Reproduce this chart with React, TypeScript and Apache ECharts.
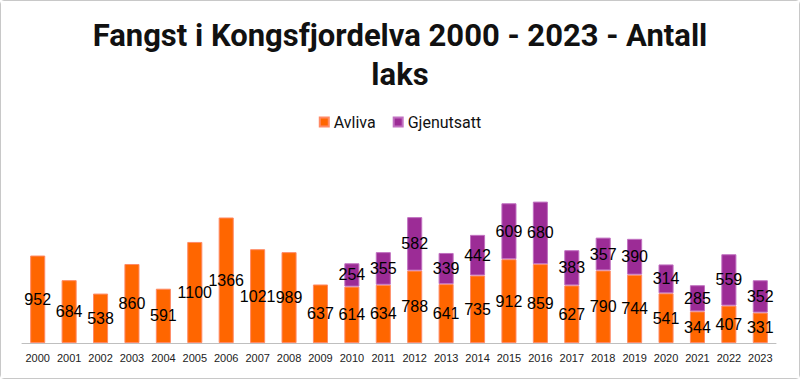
import React, { useEffect, useRef } from "react";
import * as echarts from "echarts";

const years = ["2000","2001","2002","2003","2004","2005","2006","2007","2008","2009","2010","2011","2012","2013","2014","2015","2016","2017","2018","2019","2020","2021","2022","2023"];
const avliva = [952,684,538,860,591,1100,1366,1021,989,637,614,634,788,641,735,912,859,627,790,744,541,344,407,331];
const gjenutsatt = [null,null,null,null,null,null,null,null,null,null,254,355,582,339,442,609,680,383,357,390,314,285,559,352];

export default function App() {
  const ref = useRef<HTMLDivElement>(null);
  useEffect(() => {
    document.body.style.margin = "0";
    const chart = echarts.init(ref.current!, null, { renderer: "svg" });
    const labelStyle = {
      show: true,
      position: "inside",
      color: "#000",
      fontSize: 16,
      fontFamily: "Liberation Sans, Arial, sans-serif",
    };
    chart.setOption({
      animation: false,
      backgroundColor: "#fff",
      title: {
        text: "Fangst i Kongsfjordelva 2000 - 2023 - Antall\nlaks",
        left: "center",
        top: 10,
        textStyle: {
          fontFamily: "Roboto, sans-serif",
          fontWeight: "bold",
          fontSize: 31,
          lineHeight: 39,
          color: "#111",
        },
      },
      legend: {
        top: 108,
        left: "center",
        itemWidth: 9,
        itemHeight: 9,
        itemGap: 17,
        icon: "rect",
        textStyle: { fontSize: 16, color: "#111", fontFamily: "Roboto, sans-serif" },
        data: ["Avliva", "Gjenutsatt"],
      },
      grid: { left: 21, right: 23, top: 195, bottom: 35 },
      xAxis: {
        type: "category",
        data: years,
        axisLine: { lineStyle: { color: "#bfbfbf", width: 1 } },
        axisTick: { show: false },
        axisLabel: { interval: 0, color: "#222", fontSize: 11, margin: 9, fontFamily: "Liberation Sans, Arial, sans-serif" },
      },
      yAxis: {
        type: "value",
        min: 0,
        max: 1600,
        show: false,
        splitLine: { show: false },
      },
      series: [
        {
          name: "Avliva",
          type: "bar",
          stack: "total",
          data: avliva,
          barWidth: "48%",
          itemStyle: { color: "#FF6600", borderColor: "#ff8a66", borderWidth: 1 },
          label: labelStyle,
        },
        {
          name: "Gjenutsatt",
          type: "bar",
          stack: "total",
          data: gjenutsatt,
          barWidth: "48%",
          itemStyle: { color: "#9C2C96", borderColor: "#c070c0", borderWidth: 1 },
          label: labelStyle,
        },
      ],
    });
    return () => chart.dispose();
  }, []);
  return (
    <div
      ref={ref}
      style={{ width: 800, height: 379, boxSizing: "border-box", border: "1px solid #c8c8c8", borderRadius: 4, position: "absolute", left: 0, top: 0 }}
    />
  );
}
